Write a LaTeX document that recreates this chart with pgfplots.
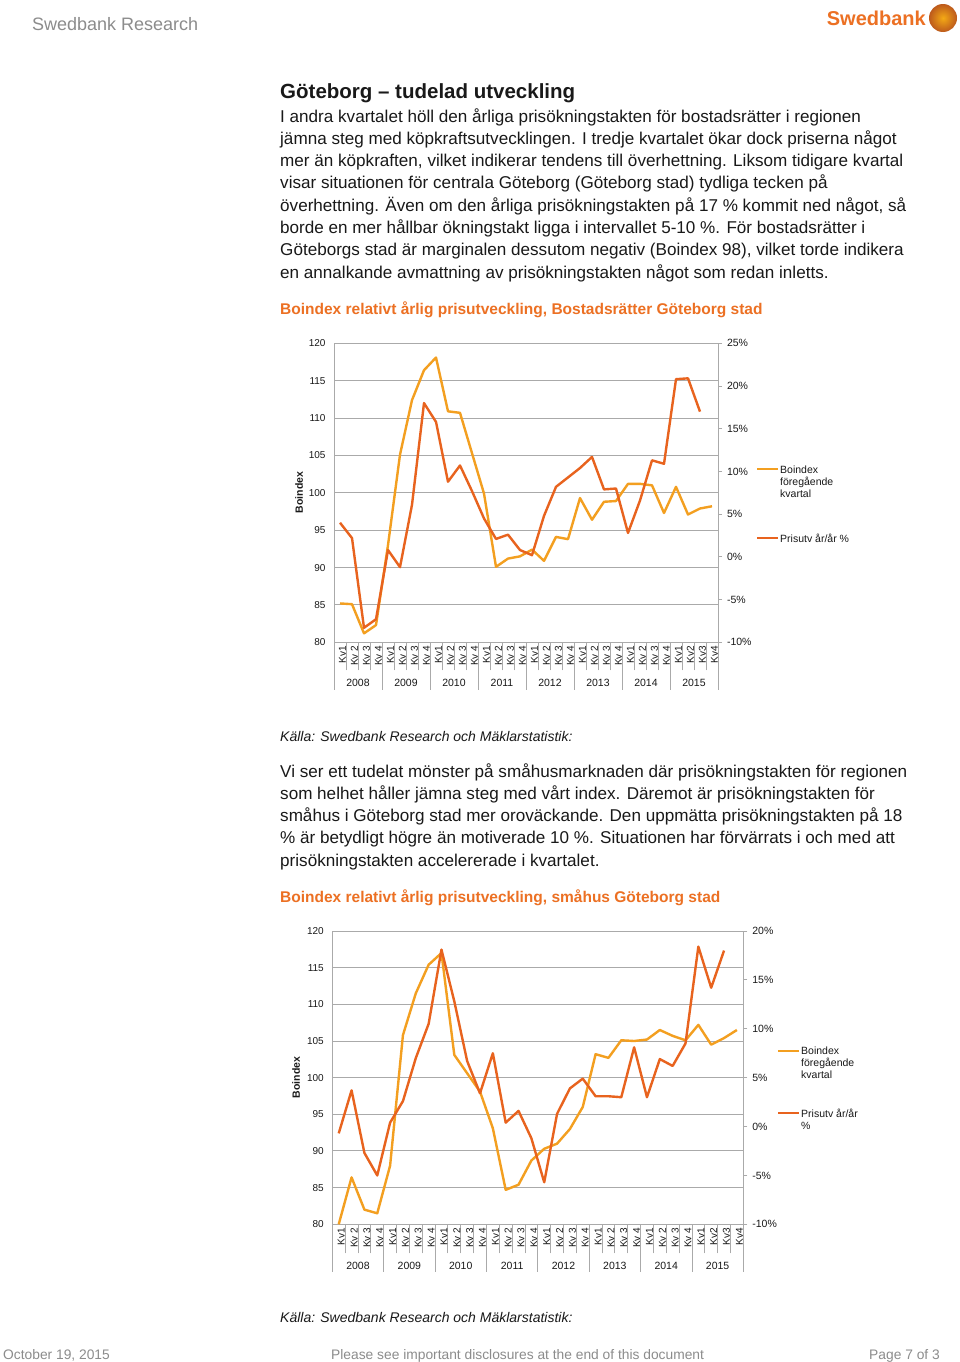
\documentclass[border=0pt]{standalone}
\usepackage{pgfplots}
\usepackage{pgfplotstable}
\pgfplotsset{compat=1.18}
\usepackage{fontspec}
\setmainfont{Liberation Sans}

\definecolor{lightor}{RGB}{243,159,32}
\definecolor{darkor}{RGB}{232,99,30}
\definecolor{gridc}{RGB}{170,170,170}
\definecolor{hdr}{RGB}{140,140,140}
\definecolor{txt}{RGB}{25,25,25}
\definecolor{swed}{RGB}{236,112,35}

% Bostadsraetter: Boindex (left axis) and prisutv ar/ar % (right axis)
\pgfplotstableread{
x bi yy
0 85.2 4.0
1 85.1 2.2
2 81.2 -8.3
3 82.3 -7.3
4 93.0 0.8
5 105.1 -1.2
6 112.4 6.1
7 116.4 18.0
8 118.1 15.8
9 110.9 8.8
10 110.7 10.7
11 105.3 7.7
12 99.9 4.5
13 90.1 2.1
14 91.2 2.6
15 91.5 0.8
16 92.4 0.2
17 90.9 4.8
18 94.1 8.2
19 93.8 9.3
20 99.3 10.4
21 96.4 11.7
22 98.8 7.9
23 98.9 8.0
24 101.2 2.8
25 101.2 6.6
26 101.0 11.3
27 97.3 10.9
28 100.8 20.8
29 97.1 20.9
30 97.9 17.0
31 98.2 nan
}\tabA

% Smahus
\pgfplotstableread{
x bi yy
0 80.0 -0.7
1 86.4 3.7
2 82.0 -2.7
3 81.5 -5.0
4 88.0 0.4
5 105.8 2.6
6 111.5 7.0
7 115.4 10.5
8 117.0 18.1
9 103.1 12.8
10 100.6 6.7
11 98.1 3.4
12 93.1 7.5
13 84.7 0.4
14 85.4 1.6
15 88.7 -1.2
16 90.3 -5.7
17 91.0 1.3
18 93.0 3.9
19 96.0 4.9
20 103.2 3.1
21 102.7 3.1
22 105.1 3.0
23 105.0 8.1
24 105.2 3.0
25 106.5 6.9
26 105.7 6.2
27 105.1 8.5
28 107.2 18.4
29 104.5 14.2
30 105.4 18.0
31 106.5 nan
}\tabB

\pgfplotsset{
  base/.style={
    scale only axis, anchor=south west, clip=false,
    xmin=-0.5, xmax=31.5,
    tick label style={font=\fontsize{10bp}{12bp}\selectfont, text=txt},
  },
  leftax/.style={base,
    ymin=80, ymax=120, ytick={80,85,...,120},
    yticklabels={80,85,90,95,100,105,110,115,120},
    xtick={0,...,31},
    xticklabels={Kv1,Kv 2,Kv 3,Kv 4,Kv1,Kv 2,Kv 3,Kv 4,Kv1,Kv 2,Kv 3,Kv 4,Kv1,Kv 2,Kv 3,Kv 4,
      Kv1,Kv 2,Kv 3,Kv 4,Kv1,Kv 2,Kv 3,Kv 4,Kv1,Kv 2,Kv 3,Kv 4,Kv1,Kv2,Kv3,Kv4},
    minor xtick={-0.5,0.5,...,31.5},
    axis lines*=left,
    axis line style={gridc, line width=0.8bp},
    ymajorgrids, major grid style={gridc, line width=1bp},
    major tick length=0pt, minor tick length=28bp, tick align=outside,
    minor tick style={gridc, line width=0.8bp},
    xticklabel style={rotate=90, anchor=east, yshift=-2.5bp},
    yticklabel style={xshift=-5bp},
  },
  rightax/.style={base,
    axis x line=none, axis y line*=right, xtick=\empty,
    axis line style={gridc, line width=0.8bp},
    major tick length=4bp, tick align=outside,
    tick style={gridc, line width=0.8bp},
    yticklabel style={xshift=1.5bp, font=\fontsize{10.5bp}{12bp}\selectfont},
  },
  light/.style={lightor, line width=2.4bp, line join=round},
  dark/.style={darkor, line width=2.4bp, line join=round},
}

\newcommand\pline[4][txt]{\node[anchor=base west,inner sep=0pt,font=#2,text=#1] at (280bp,-#3bp) {#4};}
\newcommand\fbody{\fontsize{17.1bp}{20bp}\selectfont}
\newcommand\fctitle{\bfseries\fontsize{15.5bp}{18bp}\selectfont}
\newcommand\fsrc{\itshape\fontsize{14bp}{16bp}\selectfont}
\newcommand\flgd{\fontsize{10.5bp}{12bp}\selectfont}
\newcommand\ffoot{\fontsize{13.8bp}{15bp}\selectfont}

\begin{document}
\begin{tikzpicture}
\path[use as bounding box, fill=white] (0,0) rectangle (960bp,-1362bp);

% header
\node[anchor=base west, inner sep=0pt, text=hdr, font=\fontsize{18bp}{20bp}\selectfont] at (32bp,-30bp) {Swedbank Research};
\node[anchor=base east, inner sep=0pt, text=swed, font=\bfseries\fontsize{20bp}{22bp}\selectfont] at (926bp,-25bp) {Swedbank};
\shade[inner color=swed!60!yellow, outer color=swed!80!black] (943bp,-18bp) circle (14bp);

% text block 1
\pline{\bfseries\fontsize{20.5bp}{24bp}\selectfont}{98}{Göteborg – tudelad utveckling}
\pline{\fbody}{122}{I andra kvartalet höll den årliga prisökningstakten för bostadsrätter i regionen}
\pline{\fbody}{144.3}{jämna steg med köpkraftsutvecklingen. I tredje kvartalet ökar dock priserna något}
\pline{\fbody}{166.6}{mer än köpkraften, vilket indikerar tendens till överhettning. Liksom tidigare kvartal}
\pline{\fbody}{188.9}{visar situationen för centrala Göteborg (Göteborg stad) tydliga tecken på}
\pline{\fbody}{211.2}{överhettning. Även om den årliga prisökningstakten på 17 \% kommit ned något, så}
\pline{\fbody}{233.5}{borde en mer hållbar ökningstakt ligga i intervallet 5-10 \%. För bostadsrätter i}
\pline{\fbody}{255.8}{Göteborgs stad är marginalen dessutom negativ (Boindex 98), vilket torde indikera}
\pline{\fbody}{278.1}{en annalkande avmattning av prisökningstakten något som redan inletts.}
\pline[swed]{\fctitle}{314.5}{Boindex relativt årlig prisutveckling, Bostadsrätter Göteborg stad}

% chart 1
\begin{axis}[leftax, at={(334bp,-642.3bp)}, width=384bp, height=299bp]
\addplot[light] table[x=x, y=bi] {\tabA};
\pgfplotsinvokeforeach{-0.5,3.5,7.5,11.5,15.5,19.5,23.5,27.5,31.5}{
  \draw[gridc, line width=0.8bp] (axis cs:#1,80) -- (axis cs:#1,73.58);}
\end{axis}
\begin{axis}[rightax, at={(334bp,-642.3bp)}, width=384bp, height=299bp,
  ymin=-10, ymax=25, ytick={-10,-5,...,25},
  yticklabels={-10\%,-5\%,0\%,5\%,10\%,15\%,20\%,25\%}]
\addplot[dark] table[x=x, y=yy] {\tabA};
\end{axis}
\node[rotate=90, font=\bfseries\fontsize{10.5bp}{12bp}\selectfont, text=txt] at (299bp,-492.6bp) {Boindex};
\foreach \k/\yr in {0/2008,1/2009,2/2010,3/2011,4/2012,5/2013,6/2014,7/2015}
  \node[font=\fontsize{10.5bp}{12bp}\selectfont, text=txt] at ({(358+48*\k)*1bp},-683bp) {\yr};
\draw[lightor, line width=2.4bp] (757bp,-469bp) -- (778bp,-469bp);
\node[anchor=base west, inner sep=0pt, font=\flgd, text=txt] at (780bp,-473bp) {Boindex};
\node[anchor=base west, inner sep=0pt, font=\flgd, text=txt] at (780bp,-485bp) {föregående};
\node[anchor=base west, inner sep=0pt, font=\flgd, text=txt] at (780bp,-497bp) {kvartal};
\draw[darkor, line width=2.4bp] (757bp,-538bp) -- (778bp,-538bp);
\node[anchor=base west, inner sep=0pt, font=\flgd, text=txt] at (780bp,-542bp) {Prisutv år/år \%};

\pline{\fsrc}{741}{Källa: Swedbank Research och Mäklarstatistik:}

% text block 2
\pline{\fbody}{777}{Vi ser ett tudelat mönster på småhusmarknaden där prisökningstakten för regionen}
\pline{\fbody}{799.3}{som helhet håller jämna steg med vårt index. Däremot är prisökningstakten för}
\pline{\fbody}{821.6}{småhus i Göteborg stad mer oroväckande. Den uppmätta prisökningstakten på 18}
\pline{\fbody}{843.9}{\% är betydligt högre än motiverade 10 \%. Situationen har förvärrats i och med att}
\pline{\fbody}{866.2}{prisökningstakten accelererade i kvartalet.}
\pline[swed]{\fctitle}{902.5}{Boindex relativt årlig prisutveckling, småhus Göteborg stad}

% chart 2
\begin{axis}[leftax, at={(332.3bp,-1224.3bp)}, width=411bp, height=293.3bp, minor tick length=29bp]
\addplot[light] table[x=x, y=bi] {\tabB};
\pgfplotsinvokeforeach{-0.5,3.5,7.5,11.5,15.5,19.5,23.5,27.5,31.5}{
  \draw[gridc, line width=0.8bp] (axis cs:#1,80) -- (axis cs:#1,73.45);}
\end{axis}
\begin{axis}[rightax, at={(332.3bp,-1224.3bp)}, width=411bp, height=293.3bp,
  ymin=-10, ymax=20, ytick={-10,-5,...,20},
  yticklabels={-10\%,-5\%,0\%,5\%,10\%,15\%,20\%}]
\addplot[dark] table[x=x, y=yy] {\tabB};
\end{axis}
\node[rotate=90, font=\bfseries\fontsize{10.5bp}{12bp}\selectfont, text=txt] at (296bp,-1077.6bp) {Boindex};
\foreach \k/\yr in {0/2008,1/2009,2/2010,3/2011,4/2012,5/2013,6/2014,7/2015}
  \node[font=\fontsize{10.5bp}{12bp}\selectfont, text=txt] at ({(358+51.375*\k)*1bp},-1266bp) {\yr};
\draw[lightor, line width=2.4bp] (778bp,-1050.7bp) -- (799bp,-1050.7bp);
\node[anchor=base west, inner sep=0pt, font=\flgd, text=txt] at (801bp,-1054.5bp) {Boindex};
\node[anchor=base west, inner sep=0pt, font=\flgd, text=txt] at (801bp,-1066.5bp) {föregående};
\node[anchor=base west, inner sep=0pt, font=\flgd, text=txt] at (801bp,-1078.5bp) {kvartal};
\draw[darkor, line width=2.4bp] (778bp,-1113bp) -- (799bp,-1113bp);
\node[anchor=base west, inner sep=0pt, font=\flgd, text=txt] at (801bp,-1117bp) {Prisutv år/år};
\node[anchor=base west, inner sep=0pt, font=\flgd, text=txt] at (801bp,-1129bp) {\%};

\pline{\fsrc}{1322}{Källa: Swedbank Research och Mäklarstatistik:}

% footer
\node[anchor=base west, inner sep=0pt, text=hdr, font=\ffoot] at (3bp,-1359bp) {October 19, 2015};
\node[anchor=base west, inner sep=0pt, text=hdr, font=\ffoot] at (331bp,-1359bp) {Please see important disclosures at the end of this document};
\node[anchor=base east, inner sep=0pt, text=hdr, font=\ffoot] at (940bp,-1359bp) {Page 7 of 3};
\end{tikzpicture}
\end{document}
